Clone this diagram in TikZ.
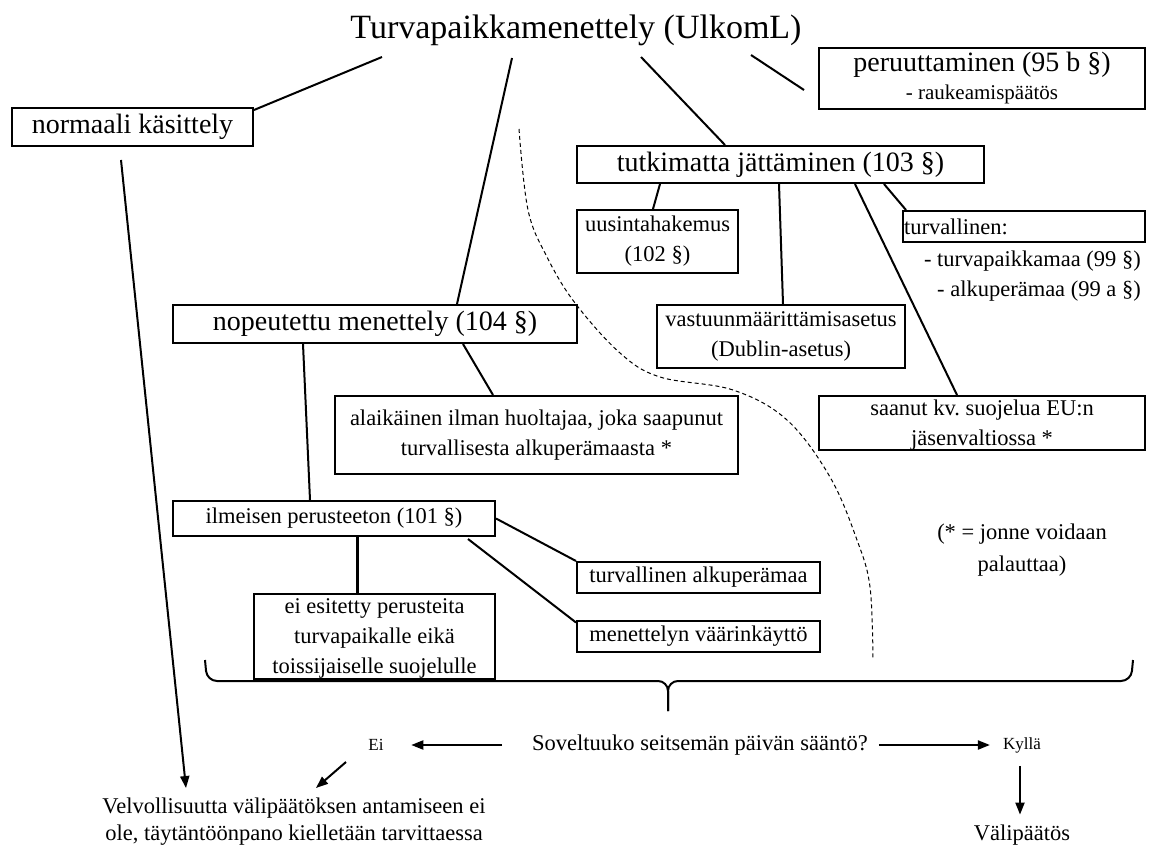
\documentclass[tikz,border=0pt]{standalone}
\usepackage{fontspec}
\setmainfont{Liberation Serif}
\usetikzlibrary{arrows.meta, calc}

\begin{document}
\begin{tikzpicture}[x=1pt, y=-1pt,
  lbox/.style={draw, line width=2pt, inner sep=0pt, align=center},
  link/.style={line width=2pt},
  arr/.style={line width=2pt, -{Triangle[length=12pt, width=9pt]}},
  txtbig/.style={font=\fontsize{28}{34}\selectfont},
  txtmid/.style={font=\fontsize{22.5}{30}\selectfont},
  txtsmall/.style={font=\fontsize{17}{20}\selectfont, inner sep=0pt}]
  \useasboundingbox (0,0) rectangle (1154,850);

  % Top
  \node[font=\fontsize{34}{40}\selectfont, inner sep=0pt] (title) at (576,30) {Turvapaikkamenettely (UlkomL)};
  \coordinate (tl1) at (382,57);
  \coordinate (tl2) at (512,58);
  \coordinate (tl3) at (641,57);
  \coordinate (tl4) at (751,55);

  \node[lbox, txtbig, minimum width=241pt, minimum height=38pt] (norm) at (132.5,127) {normaali käsittely};
  \node[lbox, txtbig, minimum width=326pt, minimum height=61pt] (per) at (982,78.5) {peruuttaminen (95 b §)\\[-6pt]{\fontsize{21}{26}\selectfont - raukeamispäätös}};
  \node[lbox, txtbig, minimum width=407pt, minimum height=37pt] (tutk) at (780.5,164.5) {tutkimatta jättäminen (103 §)};

  % Tutkimatta jattaminen
  \node[lbox, txtmid, minimum width=161pt, minimum height=63pt] (uus) at (657.5,241.5) {uusintahakemus\\(102 §)};
  \node[lbox, txtmid, align=left, text width=240pt, inner xsep=1pt, minimum height=31pt] (turv) at (1024,226.5) {turvallinen:};
  \node[txtmid, anchor=east, inner sep=0pt] (turv1) at (1141,261) {- turvapaikkamaa (99 §)};
  \node[txtmid, anchor=east, inner sep=0pt] (turv2) at (1141,291) {- alkuperämaa (99 a §)};
  \node[lbox, txtmid, minimum width=248pt, minimum height=63pt] (vast) at (781,336.5) {vastuunmäärittämisasetus\\(Dublin-asetus)};
  \node[lbox, txtmid, anchor=north, minimum width=326pt, text depth=0pt, inner ysep=4pt] (saa) at (982,395) {saanut kv.\ suojelua EU:n\\jäsenvaltiossa *};

  % Nopeutettu menettely
  \node[lbox, txtbig, minimum width=404pt, minimum height=38pt] (nop) at (375,324) {nopeutettu menettely (104 §)};
  \node[lbox, txtmid, minimum width=403pt, minimum height=78pt] (ala) at (536.5,435) {alaikäinen ilman huoltajaa, joka saapunut\\turvallisesta alkuperämaasta *};
  \node[lbox, txtmid, minimum width=322pt, minimum height=35pt] (ilm) at (334,518.5) {ilmeisen perusteeton (101 §)};
  \node[lbox, txtmid, anchor=north, minimum width=241pt, text depth=0pt, inner ysep=5pt] (ees) at (374.5,593) {ei esitetty perusteita\\turvapaikalle eikä\\toissijaiselle suojelulle};
  \node[lbox, txtmid, minimum width=243pt, minimum height=31pt] (tam) at (698.5,577.5) {turvallinen alkuperämaa};
  \node[lbox, txtmid, minimum width=243pt, minimum height=31pt] (men) at (698.5,636) {menettelyn väärinkäyttö};

  \node[font=\fontsize{22.5}{32}\selectfont, align=center, inner sep=0pt] (note) at (1022,550) {(* = jonne voidaan\\palauttaa)};

  % Bottom
  \node[txtmid, inner sep=0pt] (sov) at (700,745) {Soveltuuko seitsemän päivän sääntö?};
  \node[txtsmall] (ei) at (376,745) {Ei};
  \node[txtsmall] (kyl) at (1022,745) {Kyllä};
  \node[txtmid, inner sep=0pt] (vali) at (1022,835) {Välipäätös};
  \node[font=\fontsize{22.5}{27}\selectfont, align=center, inner sep=0pt] (velv) at (294,822) {Velvollisuutta välipäätöksen antamiseen ei\\ole, täytäntöönpano kielletään tarvittaessa};

  % Connectors
  \draw[link] (tl1) -- ([yshift=-3pt]norm.north east);
  \draw[link] (tl2) -- ([xshift=82pt]nop.north);
  \draw[link] (tl3) -- ([xshift=-55.5pt]tutk.north);
  \draw[link] (tl4) -- ($(per.west)+(-14,11.5)$);
  \draw[link] ([xshift=-120.5pt]tutk.south) -- ([xshift=-4.5pt]uus.north);
  \draw[link] ([xshift=-1.5pt]tutk.south) -- ([xshift=2pt]vast.north);
  \draw[link] ([xshift=74.5pt]tutk.south) -- ([xshift=-25pt]saa.north);
  \draw[link] ([xshift=103.5pt]tutk.south) -- ([xshift=-118pt]turv.north);
  \draw[link] ([xshift=-72pt]nop.south) -- ([xshift=-24pt]ilm.north);
  \draw[link] ([xshift=88pt]nop.south) -- ([xshift=-43.5pt]ala.north);
  \draw[line width=3pt] ([xshift=23pt]ilm.south) -- ([xshift=23pt]ilm.south |- ees.north);
  \draw[link] (ilm.east) -- (tam.north west);
  \draw[link] ($(ilm.south east)+(-28,2)$) -- ($(men.north west)+(0,3)$);

  % Dashed border
  \draw[line width=1pt, dash pattern=on 4pt off 3pt] plot[smooth, tension=0.6] coordinates {(519,129) (528,210) (547,257) (575,303) (620,353) (660,377) (733,390) (787,420) (830,477) (857,540) (870,587) (873,660)};

  % Brace
  \draw[link, rounded corners=10pt] (205,660) -- (207,681) -- (668,681) -- (668,711);
  \draw[link, rounded corners=10pt] (1133,660) -- (1131,681) -- (668,681) -- (668,711);

  % Arrows
  \draw[arr] ($(norm.south)+(-11.5,13)$) -- ($(velv.north)+(-108,-10)$);
  \draw[arr] ($(sov.west)+(-30,0)$) -- ($(ei.east)+(27.5,0)$);
  \draw[arr] ($(ei)+(-30,17)$) -- ($(ei)+(-60,43)$);
  \draw[arr] ($(sov.east)+(11,0)$) -- ($(kyl.west)+(-13,0)$);
  \draw[arr] ($(kyl.south)+(-2,13)$) -- ($(vali.north)+(-2,-10)$);
\end{tikzpicture}
\end{document}
